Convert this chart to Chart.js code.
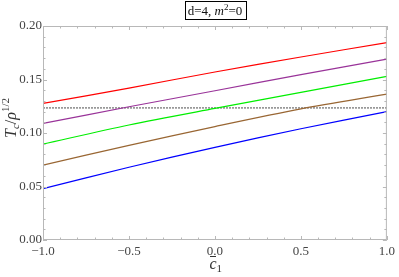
<!DOCTYPE html>
<html>
<head>
<meta charset="utf-8">
<script src="https://cdn.jsdelivr.net/npm/chart.js@4"></script>
<style>
  html, body { margin: 0; padding: 0; background: #fff; }
  #wrap { width: 399px; height: 277px; }
</style>
</head>
<body>
<div id="wrap"><canvas id="chart" width="399" height="277"></canvas></div>
<script>
// c1 sample points and curves
const c1Values = [-1, -0.5, 0, 0.5, 1];
const redTc = [0.1276, 0.142, 0.157, 0.171, 0.1845];
const purpleTc = [0.109, 0.1245, 0.1395, 0.1545, 0.169];
const greenTc = [0.0896, 0.1075, 0.123, 0.138, 0.153];
const brownTc = [0.070, 0.0885, 0.106, 0.1225, 0.1363];
const blueTc = [0.048, 0.068, 0.0865, 0.104, 0.120];
const refLevel = [0.1235, 0.1235];
const refC1 = [-1, 1];

const xTicks = [-1, -0.5, 0, 0.5, 1];
const yTicks = [0, 0.05, 0.1, 0.15, 0.2];

const SERIF = "'Liberation Serif', 'DejaVu Serif', serif";

const toPoints = (xs, ys) => xs.map((x, i) => ({ x: x, y: ys[i] }));

function curve(data, color) {
    return {
        data: toPoints(c1Values, data),
        borderColor: color,
        borderWidth: 1.2,
        pointRadius: 0,
        fill: false,
        tension: 0.3
    };
}

// frame with inward ticks, Mathematica style
const framePlugin = {
    id: 'frame',
    afterDatasetsDraw(chart) {
        const { ctx, chartArea: a, scales: { x, y } } = chart;
        ctx.save();
        ctx.strokeStyle = '#b8b8b8';
        ctx.lineWidth = 1;
        ctx.strokeRect(a.left + 0.5, a.top + 0.5, a.right - a.left - 1, a.bottom - a.top - 1);
        ctx.beginPath();
        for (let i = 0; i <= 20; i++) {
            const v = -1 + i * 0.1;
            const px = Math.round(x.getPixelForValue(v)) + 0.5;
            const len = i % 5 === 0 ? 4 : 2.5;
            ctx.moveTo(px, a.bottom); ctx.lineTo(px, a.bottom - len);
            ctx.moveTo(px, a.top); ctx.lineTo(px, a.top + len);
        }
        for (let i = 0; i <= 20; i++) {
            const v = i * 0.01;
            const py = Math.round(y.getPixelForValue(v)) + 0.5;
            const len = i % 5 === 0 ? 4 : 2.5;
            ctx.moveTo(a.left, py); ctx.lineTo(a.left + len, py);
            ctx.moveTo(a.right, py); ctx.lineTo(a.right - len, py);
        }
        ctx.stroke();
        ctx.restore();
    }
};

// axis labels and the boxed title
const labelPlugin = {
    id: 'labels',
    afterDraw(chart) {
        const { ctx, chartArea: a } = chart;
        ctx.save();
        ctx.textBaseline = 'alphabetic';

        // title box
        const parts = [
            { t: 'd=4, ', f: '13px ' + SERIF, dy: 0 },
            { t: 'm', f: 'italic 13px ' + SERIF, dy: 0 },
            { t: '2', f: '9px ' + SERIF, dy: -5 },
            { t: '=0', f: '13px ' + SERIF, dy: 0 }
        ];
        let w = 0;
        parts.forEach(p => { ctx.font = p.f; p.w = ctx.measureText(p.t).width; w += p.w; });
        const cx = (a.left + a.right) / 2;
        let tx = cx - w / 2;
        ctx.fillStyle = '#fff';
        ctx.fillRect(tx - 3, 2, w + 6, 17);
        ctx.strokeStyle = '#000';
        ctx.lineWidth = 1;
        ctx.strokeRect(Math.round(tx - 3) + 0.5, 1.5, Math.round(w + 6), 18);
        ctx.fillStyle = '#111';
        parts.forEach(p => { ctx.font = p.f; ctx.fillText(p.t, tx, 15 + p.dy); tx += p.w; });

        // y label: T_c / rho^(1/2)
        const yl = [
            { t: 'T', f: 'italic 16px ' + SERIF, dy: 0 },
            { t: 'c', f: 'italic 11px ' + SERIF, dy: 3 },
            { t: '/', f: '16px ' + SERIF, dy: 0 },
            { t: '\u03C1', f: 'italic 16px ' + SERIF, dy: 0 },
            { t: '1/2', f: '11px ' + SERIF, dy: -7 }
        ];
        w = 0;
        yl.forEach(p => { ctx.font = p.f; p.w = ctx.measureText(p.t).width; w += p.w; });
        ctx.translate(16, 118);
        ctx.rotate(-Math.PI / 2);
        tx = -w / 2;
        ctx.fillStyle = '#333';
        yl.forEach(p => { ctx.font = p.f; ctx.fillText(p.t, tx, p.dy); tx += p.w; });
        ctx.setTransform(1, 0, 0, 1, 0, 0);

        // x label: c-bar subscript 1
        ctx.font = 'italic 16px ' + SERIF;
        const cw = ctx.measureText('c').width;
        const lx = cx - 2;
        ctx.fillText('c', lx - cw / 2, 269);
        ctx.font = '11px ' + SERIF;
        ctx.fillText('1', lx + cw / 2, 272);
        ctx.fillRect(Math.round(lx - 3), 256, 6, 1);
        ctx.restore();
    }
};

new Chart(document.getElementById('chart'), {
    type: 'line',
    data: {
        datasets: [
            curve(redTc, '#ff0000'),
            curve(purpleTc, '#993399'),
            curve(greenTc, '#00ee00'),
            curve(brownTc, '#996633'),
            curve(blueTc, '#0000ff'),
            {
                data: toPoints(refC1, refLevel),
                borderColor: '#999',
                borderWidth: 1.6,
                borderDash: [2, 1],
                pointRadius: 0,
                fill: false
            }
        ]
    },
    options: {
        responsive: false,
        animation: false,
        layout: { padding: { left: 0, right: 9, top: 26, bottom: 0 } },
        plugins: {
            legend: { display: false },
            tooltip: { enabled: false }
        },
        scales: {
            x: {
                type: 'linear',
                min: -1,
                max: 1,
                afterFit: s => { s.height = 37; },
                afterBuildTicks: s => { s.ticks = xTicks.map(v => ({ value: v })); },
                ticks: {
                    padding: 4,
                    maxRotation: 0,
                    color: '#444',
                    font: { family: SERIF, size: 13 },
                    callback: v => v.toFixed(1).replace('-', '\u2212')
                },
                grid: { display: false, drawTicks: false },
                border: { display: false }
            },
            y: {
                min: 0,
                max: 0.2,
                afterFit: s => { s.width = 43; },
                afterBuildTicks: s => { s.ticks = yTicks.map(v => ({ value: v })); },
                ticks: {
                    padding: 1,
                    color: '#444',
                    font: { family: SERIF, size: 13 },
                    callback: v => v.toFixed(2)
                },
                grid: { display: false, drawTicks: false },
                border: { display: false }
            }
        }
    },
    plugins: [framePlugin, labelPlugin]
});
</script>
</body>
</html>
